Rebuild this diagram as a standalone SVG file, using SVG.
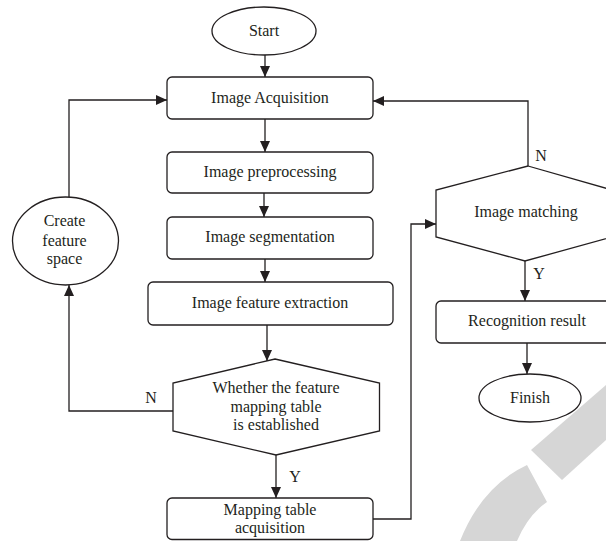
<svg xmlns="http://www.w3.org/2000/svg" width="606" height="541" viewBox="0 0 606 541">
<style>
.sh{fill:#fff;stroke:#231f20;stroke-width:1.3}
.ln{fill:none;stroke:#231f20;stroke-width:1.3}
text{font-family:"Liberation Serif","Times New Roman",serif;font-size:16px;fill:#231f20;text-anchor:middle}
.wm{fill:#d6d6d6;stroke:none}
</style>
<defs>
<marker id="ah" markerUnits="userSpaceOnUse" markerWidth="11" markerHeight="10" refX="11" refY="5" orient="auto">
<path d="M0,0 L11,5 L0,10 Z" fill="#231f20"/>
</marker>
</defs>
<rect width="606" height="541" fill="#fff"/>
<g id="watermark">
<path class="wm" d="M531,450 L606,385 L606,440 L562,480 Z"/>
<path class="wm" d="M527,465 Q482,486 460,541 L517,541 Q528,515 547,502 Z"/>
</g>
<g id="connectors">
<path class="ln" d="M265,55 V77" marker-end="url(#ah)"/>
<path class="ln" d="M265,119 V152" marker-end="url(#ah)"/>
<path class="ln" d="M264,193 V217" marker-end="url(#ah)"/>
<path class="ln" d="M265,259 V282" marker-end="url(#ah)"/>
<path class="ln" d="M267,325 V361" marker-end="url(#ah)"/>
<path class="ln" d="M276,455 V498" marker-end="url(#ah)"/>
<path class="ln" d="M373,519 H411 V224 H436" marker-end="url(#ah)"/>
<path class="ln" d="M173,411 H69 V285" marker-end="url(#ah)"/>
<path class="ln" d="M69,197 V100 H167" marker-end="url(#ah)"/>
<path class="ln" d="M528,166 V101 H373" marker-end="url(#ah)"/>
<path class="ln" d="M525,261 V301" marker-end="url(#ah)"/>
<path class="ln" d="M527,343 V374" marker-end="url(#ah)"/>
<text x="151" y="402.5">N</text>
<text x="295" y="481.5">Y</text>
<text x="541" y="161">N</text>
<text x="539" y="279">Y</text>
</g>
<g id="start">
<ellipse class="sh" cx="264" cy="31" rx="52" ry="24"/>
<text x="264" y="36">Start</text>
</g>
<g id="acq">
<rect class="sh" x="167" y="77" width="206" height="42" rx="5"/>
<text x="270" y="103">Image Acquisition</text>
</g>
<g id="prep">
<rect class="sh" x="167" y="152" width="206" height="41" rx="5"/>
<text x="270" y="177">Image preprocessing</text>
</g>
<g id="seg">
<rect class="sh" x="167" y="217" width="206" height="42" rx="5"/>
<text x="270" y="242">Image segmentation</text>
</g>
<g id="feat">
<rect class="sh" x="148" y="282" width="245" height="43" rx="5"/>
<text x="270" y="308">Image feature extraction</text>
</g>
<g id="decide1">
<polygon class="sh" points="275,359 379.5,383 379.5,431 276,455 173,431 173,383"/>
<text x="276" y="393">Whether the feature</text>
<text x="276" y="411.5">mapping table</text>
<text x="276" y="430">is established</text>
</g>
<g id="maptable">
<rect class="sh" x="167" y="498" width="206" height="41.5" rx="5"/>
<text x="270" y="515">Mapping table</text>
<text x="270" y="533">acquisition</text>
</g>
<g id="space">
<ellipse class="sh" cx="65.5" cy="241" rx="53" ry="44"/>
<text x="64.5" y="226">Create</text>
<text x="64.5" y="246">feature</text>
<text x="64.5" y="264">space</text>
</g>
<g id="matching">
<polygon class="sh" points="528,166 612,190 612,237 525,261 436,237 436,190"/>
<text x="526" y="217">Image matching</text>
</g>
<g id="result">
<rect class="sh" x="436" y="301" width="180" height="42" rx="5"/>
<text x="527" y="326">Recognition result</text>
</g>
<g id="finish">
<ellipse class="sh" cx="530" cy="398" rx="51" ry="24"/>
<text x="530" y="402.5">Finish</text>
</g>
</svg>
